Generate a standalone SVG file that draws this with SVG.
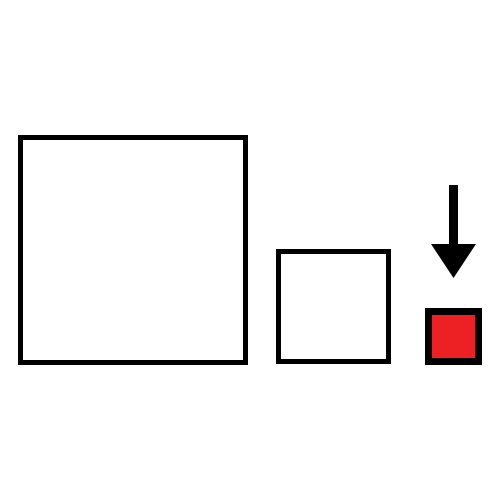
<svg xmlns="http://www.w3.org/2000/svg" width="500" height="500" viewBox="0 0 500 500">
<style>.sq{fill:#fff;stroke:#000;stroke-width:5}</style>
<rect width="500" height="500" fill="#fff"/>
<g id="big"><rect class="sq" x="20.5" y="137.5" width="225" height="225"/></g>
<g id="medium"><rect class="sq" x="278.5" y="251.5" width="110" height="110"/></g>
<g id="small"><rect x="428.5" y="311.5" width="50" height="50" fill="#ed2024" stroke="#000" stroke-width="7"/></g>
<g id="connectors">
<line x1="453.5" y1="185" x2="453.5" y2="246" stroke="#000" stroke-width="9"/>
<polygon points="431,244 476,244 453.5,278" fill="#000"/>
</g>
</svg>
